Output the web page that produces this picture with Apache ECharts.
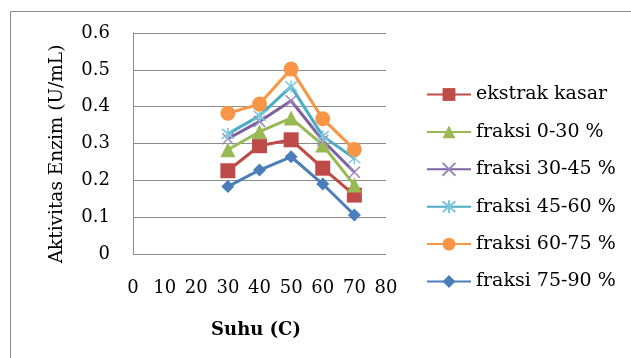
<!DOCTYPE html>
<html><head><meta charset="utf-8">
<script src="https://cdn.jsdelivr.net/npm/echarts@6/dist/echarts.min.js"></script>
<style>html,body{margin:0;padding:0;background:#fff}#c{width:631px;height:358px}</style>
</head><body><div id="c"></div>
<script>
const suhu = [30, 40, 50, 60, 70];
const seriesNames = ['ekstrak kasar','fraksi 0-30 %','fraksi 30-45 %','fraksi 45-60 %','fraksi 60-75 %','fraksi 75-90 %'];
const ekstrakKasar = [0.226, 0.294, 0.31, 0.233, 0.16];
const fraksi0_30 = [0.283, 0.332, 0.369, 0.296, 0.187];
const fraksi30_45 = [0.313, 0.36, 0.416, 0.308, 0.222];
const fraksi45_60 = [0.326, 0.375, 0.455, 0.32, 0.26];
const fraksi60_75 = [0.382, 0.407, 0.502, 0.367, 0.284];
const fraksi75_90 = [0.183, 0.228, 0.264, 0.19, 0.106];
const xTicks = [0,10,20,30,40,50,60,70,80];
const yTicks = [0,0.1,0.2,0.3,0.4,0.5,0.6];

const FONT = 'DejaVu Serif';
const crossPath = 'path://M0,0L10,10M10,0L0,10';
const starPath = 'path://M0,0L10,10M10,0L0,10M5,-1L5,11';
const defs = [
  {data: ekstrakKasar, color:'#BE4B48', symbol:'rect', size:15},
  {data: fraksi0_30, color:'#98B954', symbol:'triangle', size:15},
  {data: fraksi30_45, color:'#7D60A0', symbol:crossPath, size:11, stroke:'#9B87BD'},
  {data: fraksi45_60, color:'#4BACC6', symbol:starPath, size:12, stroke:'#7FC8DB'},
  {data: fraksi60_75, color:'#F79646', symbol:'circle', size:15},
  {data: fraksi75_90, color:'#4A7EBB', symbol:'diamond', size:13}
];
const series = defs.map((d,i)=>({
  name: seriesNames[i], type:'line',
  data: d.data.map((v,j)=>[suhu[j], v]),
  symbol: d.symbol, symbolSize: d.size,
  lineStyle:{color:d.color, width:3},
  itemStyle: d.stroke ? {color:'rgba(0,0,0,0)', borderColor:d.stroke, borderWidth:1.5} : {color:d.color},
  emphasis:{disabled:true}, animation:false
}));

const chart = echarts.init(document.getElementById('c'));
chart.setOption({
  animation:false,
  grid:{left:133, top:33, width:253, height:221},
  xAxis:{type:'value', min:0, max:80, interval:10,
    axisLine:{show:false}, axisTick:{show:false}, splitLine:{show:false},
    axisLabel:{color:'#000', fontFamily:FONT, fontSize:18, margin:25,
      formatter: v => xTicks.includes(v) ? String(v) : ''}},
  yAxis:{type:'value', min:0, max:0.6, interval:0.1,
    axisLine:{show:true, lineStyle:{color:'#8c8c8c', width:1}}, axisTick:{show:false},
    splitLine:{show:true, lineStyle:{color:'#8c8c8c', width:1}},
    axisLabel:{color:'#000', fontFamily:FONT, fontSize:18, margin:23,
      formatter: v => { const t = yTicks.find(y=>Math.abs(y-v)<1e-9); return t===undefined?'':String(t); }}},
  legend:{orient:'vertical', left:421, top:80, itemWidth:44, itemHeight:16, itemGap:18.4,
    textStyle:{color:'#000', fontFamily:FONT, fontSize:19, lineHeight:19}, selectedMode:false,
    data: seriesNames},
  graphic:[
    {type:'rect', shape:{x:10.5, y:11.5, width:700, height:400}, style:{fill:'none', stroke:'#8c8c8c', lineWidth:1}, silent:true},
    {type:'text', x:57, y:154, rotation:Math.PI/2, style:{text:'Aktivitas Enzim (U/mL)', fontFamily:FONT, fontSize:18.5, fill:'#000', align:'center', verticalAlign:'middle'}},
    {type:'text', x:256, y:330, style:{text:'Suhu (C)', fontFamily:FONT, fontWeight:'bold', fontSize:18, fill:'#000', align:'center', verticalAlign:'middle'}}
  ],
  series: series
});
</script></body></html>
